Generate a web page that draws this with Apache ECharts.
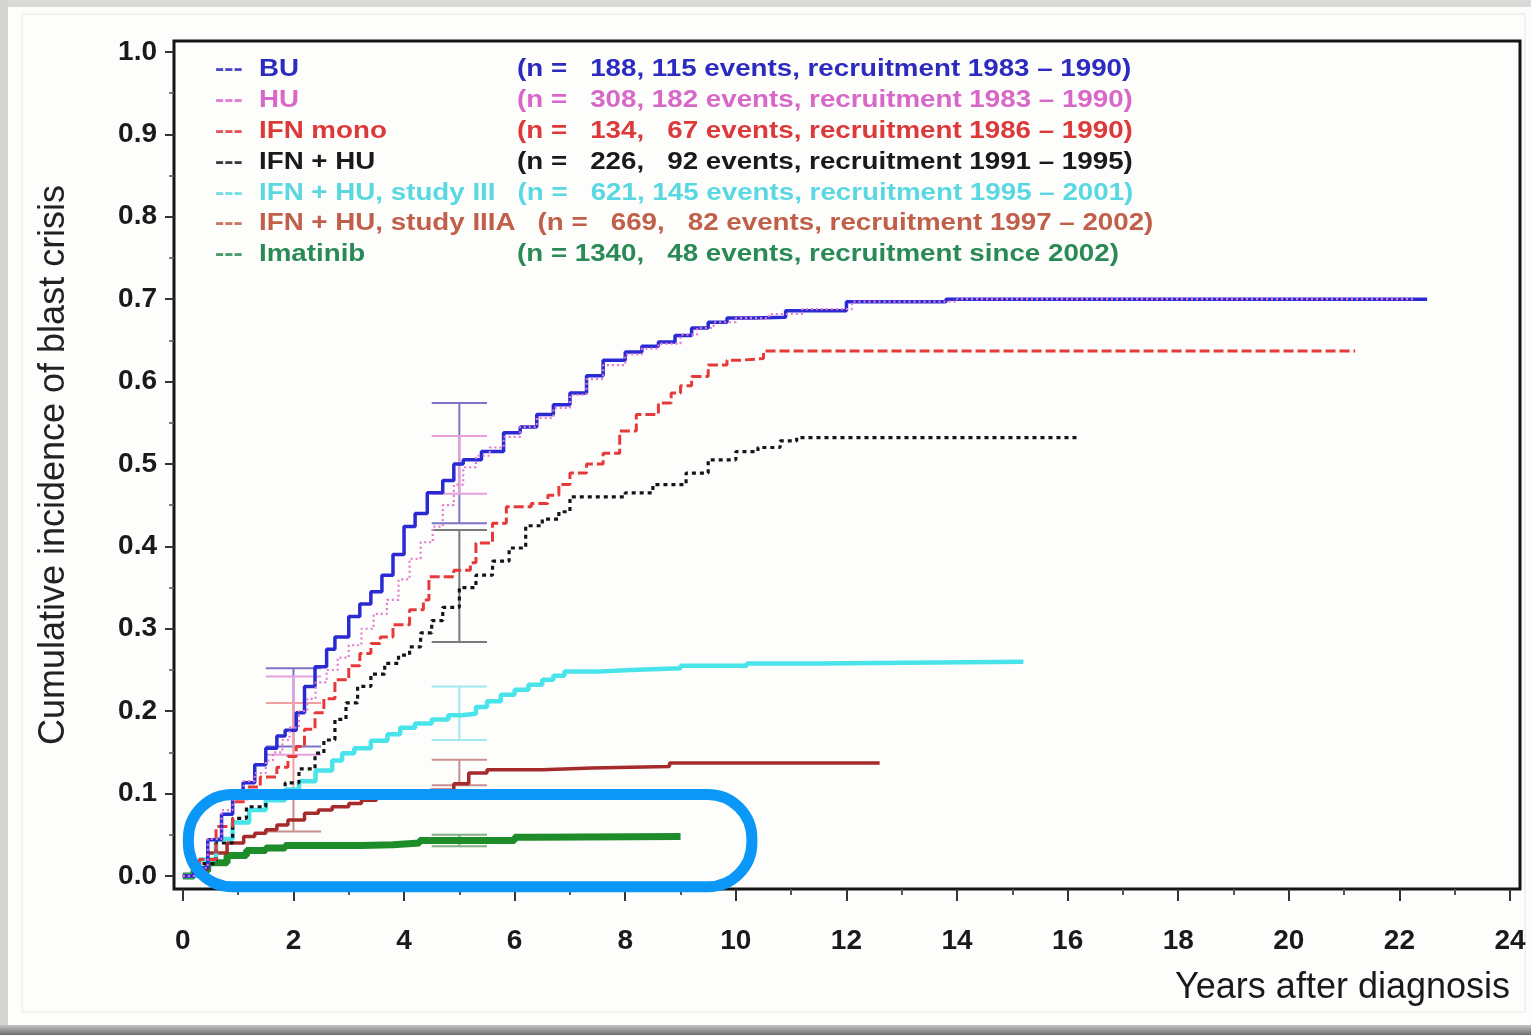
<!DOCTYPE html>
<html>
<head>
<meta charset="utf-8">
<script src="https://cdn.jsdelivr.net/npm/echarts@6/dist/echarts.min.js"></script>
<style>
  html, body { margin: 0; padding: 0; background: #e8e8e6; }
  #main { width: 1531px; height: 1035px; }
</style>
</head>
<body>
<div id="main"></div>
<script>
// tick positions
var xLabelTicks = [0, 2, 4, 6, 8, 10, 12, 14, 16, 18, 20, 22, 24];
var xMinorTicks = [1, 3, 5, 7, 9, 11, 13, 15, 17, 19, 21, 23];
var yLabelTicks = [0, 0.1, 0.2, 0.3, 0.4, 0.5, 0.6, 0.7, 0.8, 0.9, 1.0];
var yMinorTicks = [0.05, 0.15, 0.25, 0.35, 0.45, 0.55, 0.65, 0.75, 0.85, 0.95];

var groupNames = ['BU', 'HU', 'IFN mono', 'IFN + HU', 'IFN + HU, study III', 'IFN + HU, study IIIA', 'Imatinib'];
var groupInfo = [
  '(n =   188, 115 events, recruitment 1983 \u2013 1990)',
  '(n =   308, 182 events, recruitment 1983 \u2013 1990)',
  '(n =   134,   67 events, recruitment 1986 \u2013 1990)',
  '(n =   226,   92 events, recruitment 1991 \u2013 1995)',
  '(n =   621, 145 events, recruitment 1995 \u2013 2001)',
  '(n =   669,   82 events, recruitment 1997 \u2013 2002)',
  '(n = 1340,   48 events, recruitment since 2002)'
];

// cumulative incidence curves, [years, incidence] at each step
var buCurve = [[0,0],[0.2,0.01],[0.45,0.044],[0.7,0.075],[0.9,0.1],[1.09,0.113],[1.3,0.135],[1.5,0.155],[1.7,0.17],[1.85,0.177],[2.05,0.198],[2.2,0.23],[2.39,0.254],[2.6,0.275],[2.75,0.29],[3.0,0.315],[3.2,0.33],[3.4,0.345],[3.6,0.365],[3.8,0.39],[4.0,0.424],[4.2,0.44],[4.42,0.465],[4.7,0.48],[4.9,0.5],[5.07,0.505],[5.4,0.515],[5.8,0.538],[6.1,0.545],[6.4,0.56],[6.7,0.572],[7.0,0.586],[7.3,0.607],[7.6,0.626],[8.0,0.636],[8.3,0.643],[8.6,0.648],[8.9,0.656],[9.2,0.665],[9.5,0.672],[9.84,0.677],[10.3,0.678],[10.9,0.686],[12.0,0.697],[13.8,0.7],[22.5,0.7]];
var huCurve = [[0,0],[0.2,0.01],[0.45,0.045],[0.7,0.08],[0.9,0.1],[1.1,0.115],[1.3,0.125],[1.5,0.14],[1.63,0.15],[1.8,0.165],[1.93,0.18],[2.1,0.2],[2.25,0.215],[2.4,0.235],[2.6,0.25],[2.8,0.265],[3.0,0.28],[3.23,0.3],[3.45,0.318],[3.69,0.335],[3.9,0.36],[4.1,0.385],[4.3,0.405],[4.52,0.424],[4.7,0.45],[4.9,0.475],[5.07,0.496],[5.3,0.51],[5.55,0.52],[5.8,0.533],[6.1,0.545],[6.4,0.556],[6.7,0.568],[7.0,0.584],[7.3,0.603],[7.6,0.62],[8.0,0.633],[8.3,0.64],[8.6,0.646],[9.0,0.657],[9.3,0.665],[9.6,0.672],[10.0,0.677],[10.6,0.682],[11.2,0.688],[12.1,0.697],[14.0,0.7],[22.3,0.7]];
var ifnMonoCurve = [[0,0],[0.3,0.02],[0.6,0.06],[0.9,0.09],[1.16,0.108],[1.4,0.12],[1.7,0.132],[1.9,0.145],[2.05,0.157],[2.2,0.178],[2.39,0.198],[2.55,0.215],[2.75,0.238],[3.0,0.255],[3.2,0.27],[3.4,0.282],[3.57,0.29],[3.8,0.305],[4.1,0.323],[4.35,0.335],[4.45,0.363],[4.9,0.371],[5.2,0.38],[5.3,0.404],[5.6,0.428],[5.85,0.448],[6.3,0.452],[6.6,0.462],[6.8,0.475],[7.0,0.489],[7.3,0.5],[7.6,0.513],[7.9,0.54],[8.2,0.56],[8.6,0.574],[8.83,0.586],[9.0,0.595],[9.2,0.606],[9.5,0.62],[9.84,0.626],[10.1,0.628],[10.5,0.637],[21.2,0.637]];
var ifnHuCurve = [[0,0],[0.3,0.015],[0.6,0.04],[0.9,0.07],[1.15,0.084],[1.5,0.1],[1.85,0.113],[2.1,0.13],[2.39,0.149],[2.55,0.165],[2.75,0.19],[2.95,0.21],[3.16,0.23],[3.4,0.245],[3.65,0.258],[3.9,0.268],[4.1,0.278],[4.3,0.295],[4.5,0.31],[4.7,0.326],[5.0,0.35],[5.3,0.365],[5.6,0.382],[5.9,0.398],[6.2,0.425],[6.5,0.433],[6.8,0.442],[7.0,0.46],[7.56,0.46],[8.0,0.465],[8.5,0.475],[9.1,0.489],[9.5,0.505],[10.0,0.515],[10.4,0.52],[10.8,0.528],[11.1,0.532],[16.2,0.532]];
var study3Curve = [[0,0],[0.3,0.02],[0.6,0.045],[0.9,0.065],[1.2,0.08],[1.5,0.092],[1.85,0.105],[2.1,0.115],[2.4,0.128],[2.7,0.14],[2.88,0.149],[3.1,0.155],[3.4,0.164],[3.7,0.172],[3.93,0.18],[4.2,0.185],[4.5,0.19],[4.8,0.195],[5.04,0.197],[5.3,0.205],[5.5,0.212],[5.75,0.22],[6.0,0.226],[6.25,0.232],[6.5,0.238],[6.7,0.243],[6.9,0.248],[7.5,0.25],[8.1,0.252],[9.0,0.255],[10.2,0.258],[11.5,0.26],[15.2,0.26]];
var study3aCurve = [[0,0],[0.2,0.008],[0.45,0.028],[0.8,0.04],[1.1,0.048],[1.3,0.052],[1.5,0.056],[1.7,0.062],[1.9,0.068],[2.2,0.076],[2.45,0.08],[2.7,0.084],[3.0,0.088],[3.23,0.092],[3.5,0.095],[3.8,0.098],[4.1,0.101],[4.48,0.104],[4.9,0.112],[5.17,0.125],[5.5,0.129],[6.5,0.131],[7.4,0.133],[8.8,0.137],[12.6,0.137]];
var imatinibCurve = [[0,0],[0.2,0.006],[0.45,0.016],[0.8,0.025],[1.15,0.031],[1.5,0.034],[1.85,0.037],[3.23,0.038],[3.8,0.04],[4.28,0.043],[5.9,0.043],[6.0,0.047],[6.3,0.048],[9.0,0.048]];

// confidence bars: [years, lower, upper, group index]
var errorBars = [
  [2, 0.157, 0.252, 0], [2, 0.147, 0.242, 1], [2, 0.1, 0.21, 2], [2, 0.054, 0.1, 5],
  [5, 0.428, 0.574, 0], [5, 0.464, 0.534, 1], [5, 0.284, 0.42, 3],
  [5, 0.165, 0.23, 4], [5, 0.11, 0.141, 5], [5, 0.036, 0.05, 6]
];

var curves = [buCurve, huCurve, ifnMonoCurve, ifnHuCurve, study3Curve, study3aCurve, imatinibCurve];
var textColors = ['#2b2bbf', '#d868c8', '#dc3a3a', '#1a1a1a', '#5ad8e2', '#c0604a', '#2a8a55'];
var lineStyles = [
  { color: '#2a2ad2', width: 3.5, type: 'solid' },
  { color: '#e27ad0', width: 2.2, type: [2, 3] },
  { color: '#e63a3a', width: 3, type: [10, 4] },
  { color: '#151515', width: 3.2, type: [4, 4] },
  { color: '#48e4ea', width: 4.5, type: 'solid' },
  { color: '#a52a2a', width: 3.5, type: 'solid' },
  { color: '#1f8c2a', width: 7, type: 'solid' }
];
var barColors = ['#7c74c4', '#e6a0dc', '#f0a0a0', '#7a7a7a', '#9ee8ee', '#c89090', '#80b080'];
var drawOrder = [6, 5, 4, 3, 2, 0, 1];

var xMin = -0.16, xMax = 24.18, yMin = -0.0158, yMax = 1.0133;
var tickFont = { fontSize: 28, fontWeight: 'bold', color: '#1a1a1a', fontFamily: 'Liberation Sans, Arial, sans-serif' };
var hiddenLine = { show: false, onZero: false };

var chart = echarts.init(document.getElementById('main'));

var series = [{
  type: 'custom',
  name: 'ci',
  data: errorBars,
  encode: { x: 0, y: [1, 2] },
  silent: true,
  renderItem: function (params, api) {
    var x = api.value(0);
    var lo = api.coord([x, api.value(1)]);
    var hi = api.coord([x, api.value(2)]);
    var l = api.coord([x - 0.5, api.value(1)])[0];
    var r = api.coord([x + 0.5, api.value(1)])[0];
    var st = { stroke: barColors[api.value(3)], lineWidth: 2 };
    return {
      type: 'group',
      children: [
        { type: 'line', shape: { x1: lo[0], y1: lo[1], x2: hi[0], y2: hi[1] }, style: st },
        { type: 'line', shape: { x1: l, y1: lo[1], x2: r, y2: lo[1] }, style: st },
        { type: 'line', shape: { x1: l, y1: hi[1], x2: r, y2: hi[1] }, style: st }
      ]
    };
  }
}];
drawOrder.forEach(function (i) {
  series.push({
    type: 'line',
    name: groupNames[i],
    data: curves[i],
    step: 'end',
    showSymbol: false,
    silent: true,
    lineStyle: lineStyles[i]
  });
});

chart.setOption({
  animation: false,
  backgroundColor: '#fdfdfc',
  grid: { left: 174, right: 11, top: 41, bottom: 146, show: true, borderColor: '#151515', borderWidth: 3 },
  xAxis: [{
    type: 'value', min: xMin, max: xMax,
    axisLine: hiddenLine, splitLine: { show: false },
    axisTick: { inside: false, customValues: xLabelTicks, length: 12, lineStyle: { color: '#333', width: 2 } },
    axisLabel: Object.assign({ customValues: xLabelTicks, margin: 38 }, tickFont)
  }, {
    type: 'value', min: xMin, max: xMax, position: 'bottom',
    axisLine: hiddenLine, splitLine: { show: false },
    axisTick: { inside: false, customValues: xMinorTicks, length: 6, lineStyle: { color: '#555', width: 2 } },
    axisLabel: { show: false }
  }],
  yAxis: [{
    type: 'value', min: yMin, max: yMax,
    axisLine: hiddenLine, splitLine: { show: false },
    axisTick: { inside: false, customValues: yLabelTicks, length: 9, lineStyle: { color: '#333', width: 2 } },
    axisLabel: Object.assign({
      customValues: yLabelTicks, margin: 17,
      formatter: function (v) { return v.toFixed(1); }
    }, tickFont),
    name: 'Cumulative incidence of blast crisis',
    nameLocation: 'middle', nameGap: 102,
    nameTextStyle: { fontSize: 36, color: '#222', fontFamily: 'Liberation Sans, Arial, sans-serif' }
  }, {
    type: 'value', min: yMin, max: yMax, position: 'left',
    axisLine: hiddenLine, splitLine: { show: false },
    axisTick: { inside: false, customValues: yMinorTicks, length: 5, lineStyle: { color: '#555', width: 1.5 } },
    axisLabel: { show: false }
  }],
  series: series
});

// legend rows, frame and the highlight box
var graphics = [
  { type: 'rect', z: -10, silent: true, shape: { x: 0, y: 0, width: 1531, height: 7 }, style: { fill: '#dadad8' } },
  { type: 'rect', z: -10, silent: true, shape: { x: 0, y: 0, width: 8, height: 1035 }, style: { fill: '#d4d4d2' } },
  { type: 'rect', z: -10, silent: true, shape: { x: 0, y: 1025, width: 1531, height: 10 },
    style: { fill: new echarts.graphic.LinearGradient(0, 0, 0, 1, [{ offset: 0, color: '#c4c4c2' }, { offset: 1, color: '#6e6e6e' }]) } },
  { type: 'rect', z: -9, silent: true, shape: { x: 22, y: 14, width: 1503, height: 998 }, style: { fill: 'none', stroke: '#e6e6e4', lineWidth: 1 } },
  { type: 'text', silent: true, right: 21, top: 970,
    style: { text: 'Years after diagnosis', fontSize: 36, fill: '#1a1a1a', fontFamily: 'Liberation Sans, Arial, sans-serif' } }
];

var legendFont = 'bold 23.5px "Liberation Sans", Arial, sans-serif';
var ctx = document.createElement('canvas').getContext('2d');
ctx.font = legendFont;
var stretch = 1.18;
groupNames.forEach(function (name, i) {
  var rowY = 70 + i * 30.8;
  var nameEnd = 259 + ctx.measureText(name).width * stretch;
  var infoX = Math.max(517, nameEnd + 22);
  graphics.push(
    { type: 'text', silent: true, x: 215, y: rowY, scaleX: stretch, z: 50,
      style: { text: '---', font: legendFont, fill: textColors[i], opacity: 0.85, verticalAlign: 'middle' } },
    { type: 'text', silent: true, x: 259, y: rowY, scaleX: stretch, z: 50,
      style: { text: name, font: legendFont, fill: textColors[i], verticalAlign: 'middle' } },
    { type: 'text', silent: true, x: infoX, y: rowY, scaleX: stretch, z: 50,
      style: { text: groupInfo[i], font: legendFont, fill: textColors[i], verticalAlign: 'middle' } }
  );
});

var hlTopLeft = chart.convertToPixel({ xAxisIndex: 0, yAxisIndex: 0 }, [0.1, 0.099]);
var hlBottomRight = chart.convertToPixel({ xAxisIndex: 0, yAxisIndex: 0 }, [10.29, -0.013]);
graphics.push({
  type: 'rect', silent: true, z: 100,
  shape: { x: hlTopLeft[0], y: hlTopLeft[1], width: hlBottomRight[0] - hlTopLeft[0], height: hlBottomRight[1] - hlTopLeft[1], r: 44 },
  style: { fill: 'none', stroke: '#0a97f7', lineWidth: 11 }
});

chart.setOption({ graphic: graphics });
</script>
</body>
</html>
